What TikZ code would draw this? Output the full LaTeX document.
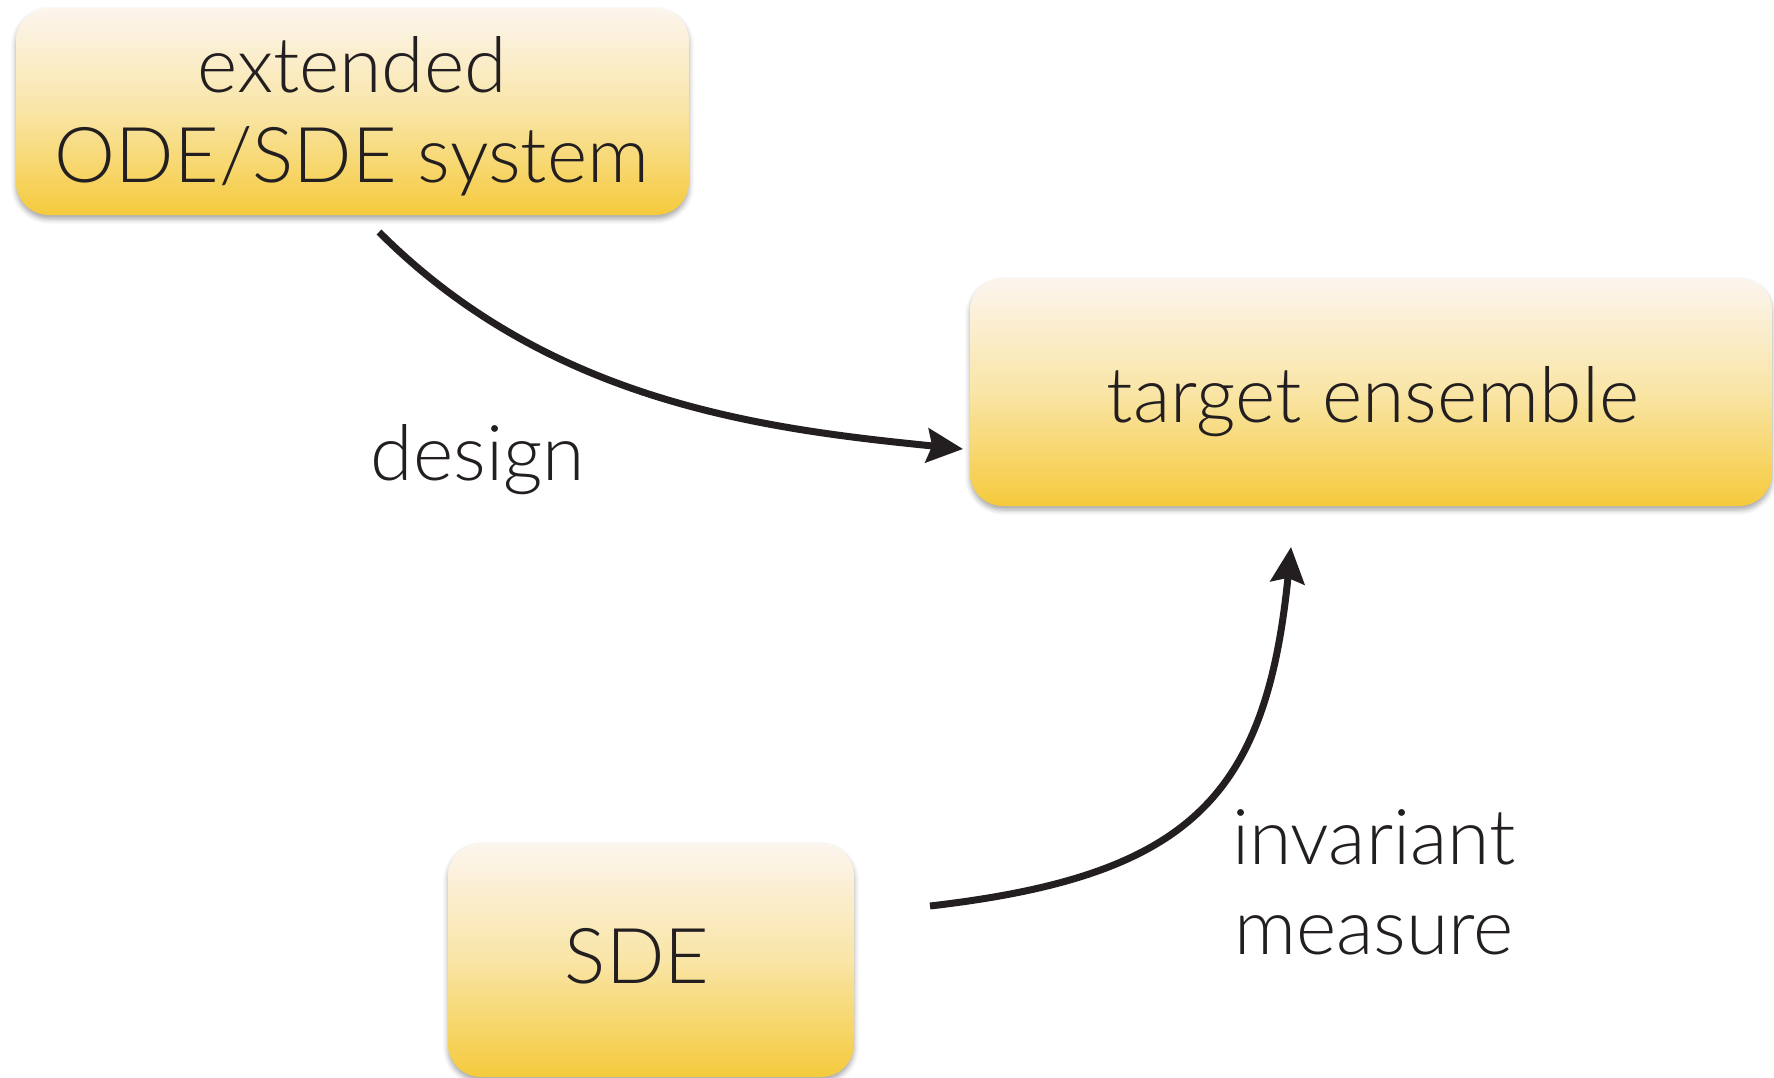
\documentclass[tikz,border=0pt]{standalone}
\usepackage{fontspec}
\setmainfont{Lato Light}
\usetikzlibrary{arrows.meta,shadows.blur}
\definecolor{ink}{HTML}{231F20}
\definecolor{cream}{HTML}{FCF5EE}
\definecolor{paleyellow}{HTML}{F9E5A6}
\definecolor{gold}{HTML}{F5CA3C}
\tikzset{
  box/.style={rounded corners=33pt, draw=none, inner sep=0pt,
    top color=cream, bottom color=gold, middle color=paleyellow,
    blur shadow={shadow xshift=0pt, shadow yshift=-4pt,
      shadow blur radius=5pt, shadow opacity=35}},
  lbl/.style={text=ink, font=\fontsize{77}{90}\selectfont, align=center,
    inner sep=0pt, anchor=base},
  flow/.style={draw=ink, line width=7pt,
    -{Stealth[length=36pt, width=34pt, inset=5pt]}}
}
\begin{document}
\begin{tikzpicture}[x=1pt, y=-1pt]
\useasboundingbox (0,0) rectangle (1774,1078);

% boxes
\node[box, minimum width=673pt, minimum height=207pt] (ode)    at (352.5,111.5) {};
\node[box, minimum width=802pt, minimum height=228pt] (target) at (1371,392)    {};
\node[box, minimum width=406pt, minimum height=234pt] (sde)    at (651,960)     {};

% box texts (base anchor = baseline of the last line)
\node[lbl] (odetext)    at (352,183)  {extended\\ODE/SDE system};
\node[lbl] (targettext) at (1373,422) {target ensemble};
\node[lbl] (sdetext)    at (637,983)  {SDE};

% arrow ends
\coordinate (d0) at (379,232);
\coordinate (d1) at (963,449);
\coordinate (m0) at (930,906);
\coordinate (m1) at (1291,547);

\draw[flow] (d0) .. controls (549,402) and (763,429) .. (d1);
\draw[flow] (m0) .. controls (1190,876) and (1266,797) .. (m1);

% arrow labels
\node[lbl] (design)    at (478,480)  {design};
\node[lbl] (invariant) at (1374,954) {invariant\\measure};
\end{tikzpicture}
\end{document}
